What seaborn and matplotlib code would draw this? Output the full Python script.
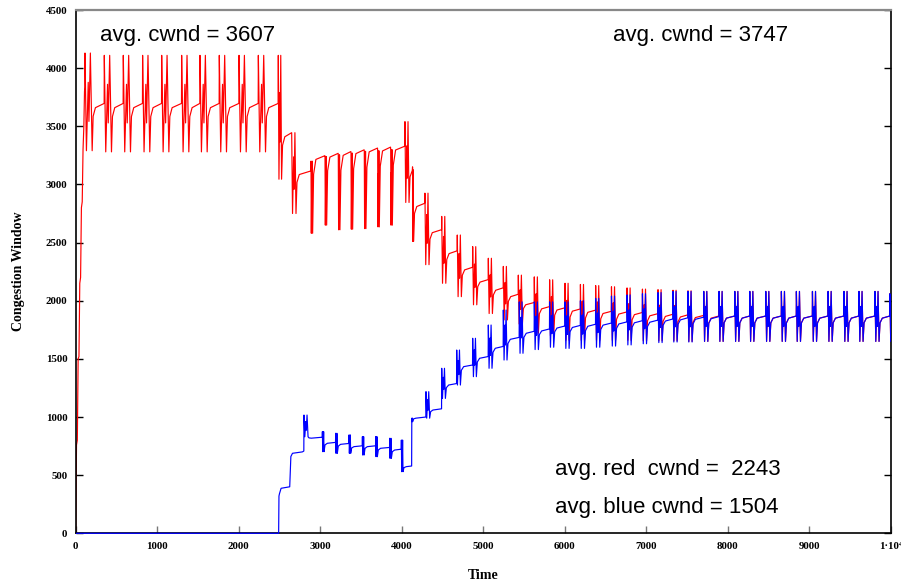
import numpy as np
import pandas as pd
import matplotlib
matplotlib.use("Agg")
import matplotlib.pyplot as plt
import seaborn as sns
from matplotlib.transforms import Bbox, TransformedBbox

# ---- data ----
# red flow: slow start, then one entry per spike cluster
red_ramp_t = [0, 10, 20, 30, 40, 50, 60, 70, 80, 90, 100, 108]
red_ramp_v = [0, 760, 800, 1500, 1520, 2150, 2200, 2800, 2850, 3300, 3500, 3800]

red_t = [114, 351, 584, 821, 1055, 1300, 1525, 1762, 2004, 2241, 2486,
         2650, 2887, 3059, 3222, 3378, 3541, 3705, 3865, 4040, 4135,
         4285, 4491, 4682, 4871, 5063, 5247, 5431, 5627, 5815,
         6004, 6193, 6380, 6574, 6765, 6954, 7145, 7329, 7513, 7706,
         7894, 8087, 8271, 8467, 8659, 8843, 9040, 9232, 9427, 9611, 9807, 9990]
red_hi = [4130, 4110, 4110, 4110, 4110, 4110, 4110, 4110, 4110, 4110, 4110,
          3445, 3200, 3240, 3255, 3270, 3285, 3290, 3300, 3540, 3125,
          2925, 2725, 2565, 2465, 2365, 2295, 2220, 2205, 2180,
          2150, 2140, 2130, 2120, 2110, 2100, 2095, 2090, 2085, 2080,
          2080, 2080, 2080, 2080, 2080, 2080, 2080, 2080, 2080, 2080, 2080, 2060]
red_lo = [3290, 3280, 3280, 3280, 3280, 3280, 3280, 3280, 3280, 3280, 3045,
          2750, 2580, 2650, 2610, 2615, 2620, 2635, 2650, 2845, 2510,
          2310, 2150, 2035, 1965, 1890, 1835, 1800, 1720, 1700,
          1660, 1660, 1660, 1660, 1660, 1655, 1655, 1655, 1650, 1650,
          1650, 1650, 1650, 1650, 1650, 1650, 1650, 1650, 1650, 1650, 1650, 1650]
red_lvl = [3660, 3660, 3660, 3660, 3660, 3660, 3660, 3660, 3660, 3660, 3410,
           3085, 3215, 3235, 3250, 3265, 3280, 3288, 3296, 3120, 2810,
           2585, 2405, 2265, 2160, 2090, 2035, 1965, 1930, 1920,
           1910, 1900, 1890, 1885, 1880, 1870, 1865, 1860, 1855, 1850,
           1850, 1850, 1850, 1850, 1850, 1850, 1850, 1850, 1850, 1850, 1850, 1850]
red_w = [88] * 10 + [40, 53, 20, 20, 20, 20, 20, 20, 20, 50, 10] + [50] * 31

# blue flow: zero until ~2500, then clusters
blue_pre_t = [0, 2490, 2494, 2500, 2520, 2626, 2640, 2660, 2781]
blue_pre_v = [0, 0, 320, 340, 387, 400, 660, 688, 700]

blue_t = [2801, 3027, 3190, 3354, 3518, 3681, 3853, 3996, 4124,
          4298, 4491, 4675, 4871, 5063, 5247, 5443, 5627, 5815,
          6004, 6193, 6380, 6574, 6765, 6954, 7145, 7329, 7513, 7706,
          7894, 8087, 8271, 8467, 8659, 8843, 9040, 9232, 9427, 9611, 9807, 9990]
blue_hi = [1017, 874, 860, 846, 831, 831, 817, 802, 990,
           1218, 1419, 1576, 1677, 1791, 1920, 1990, 1990, 1990,
           1990, 2000, 2020, 2040, 2050, 2060, 2070, 2080, 2080, 2080,
           2080, 2080, 2080, 2080, 2080, 2080, 2080, 2080, 2080, 2080, 2080, 2060]
blue_lo = [830, 702, 688, 688, 673, 659, 645, 530, 960,
           990, 1160, 1275, 1347, 1419, 1490, 1548, 1580, 1600,
           1590, 1590, 1600, 1610, 1620, 1630, 1640, 1645, 1645, 1650,
           1650, 1650, 1650, 1650, 1650, 1650, 1650, 1650, 1650, 1650, 1650, 1650]
blue_lvl = [818, 774, 765, 745, 745, 731, 716, 573, 990,
            1060, 1275, 1433, 1505, 1591, 1668, 1720, 1740, 1765,
            1770, 1780, 1790, 1800, 1810, 1815, 1825, 1835, 1840, 1845,
            1850, 1850, 1850, 1850, 1850, 1850, 1850, 1850, 1850, 1850, 1850, 1850]
blue_w = [50, 20, 20, 20, 20, 20, 20, 20, 10] + [45] * 7 + [50] * 24

x_ticks = list(range(0, 10001, 1000))
x_labels = ["0", "1000", "2000", "3000", "4000", "5000", "6000", "7000", "8000", "9000", "1·10⁴"]
y_ticks = list(range(0, 4501, 500))


def trace(pre_t, pre_v, ct, hi, lo, lvl, w):
    # polyline through the read plateau / peak / trough levels of each cluster
    xs, ys = list(pre_t), list(pre_v)
    for c, h, l, v, d in zip(ct, hi, lo, lvl, w):
        xs.append(c - 2)
        ys.append(ys[-1] * 1.01)
        xs += [c, c + 0.2 * d, c + 0.45 * d, c + 0.55 * d, c + 0.75 * d, c + d,
               c + d + 12, c + d + 40]
        ys += [h, l, h - 0.3 * (h - l), l + 0.3 * (h - l), h, l,
               l + 0.8 * (v - l), v]
    return xs, ys


rx, ry = trace(red_ramp_t, red_ramp_v, red_t, red_hi, red_lo, red_lvl, red_w)
bx, by = trace(blue_pre_t, blue_pre_v, blue_t, blue_hi, blue_lo, blue_lvl, blue_w)
df = pd.concat([
    pd.DataFrame({"Time": rx, "cwnd": ry, "flow": "red"}),
    pd.DataFrame({"Time": bx, "cwnd": by, "flow": "blue"}),
], ignore_index=True)

sns.set_style("white")
plt.rcParams["font.family"] = ["Liberation Serif", "DejaVu Serif"]
plt.rcParams["font.weight"] = "bold"
plt.rcParams["text.color"] = "black"
plt.rcParams["axes.labelcolor"] = "black"

fig = plt.figure(figsize=(9.01, 5.86), dpi=100)
ax = fig.add_axes([75.7 / 901, (586 - 533.3) / 586, 815 / 901, 523.3 / 586])

sns.lineplot(data=df, x="Time", y="cwnd", hue="flow", hue_order=["red", "blue"],
             palette={"red": "#ff0000", "blue": "#0000ff"}, sort=False,
             estimator=None, legend=False, linewidth=0.85, ax=ax)

# let the zero-level blue line sit on the bottom axis
blue_line = ax.get_lines()[1]
blue_line.set_zorder(3)
blue_line.set_clip_box(TransformedBbox(Bbox([[0, -0.01], [1, 1]]), ax.transAxes))

ax.set_xlim(0, 10000)
ax.set_ylim(0, 4500)
ax.set_xticks(x_ticks)
ax.set_xticklabels(x_labels)
ax.set_yticks(y_ticks)
ax.set_yticklabels([str(v) for v in y_ticks])
ax.tick_params(axis="both", direction="in", length=5, width=1, labelsize=7.8,
               pad=6, right=True, left=True, bottom=True, labelcolor="black")
ax.tick_params(axis="x", colors="#777777", labelcolor="black")
ax.tick_params(axis="y", colors="black")
for lab in ax.get_xticklabels() + ax.get_yticklabels():
    lab.set_fontweight("bold")

for side in ["left", "right", "bottom"]:
    ax.spines[side].set_color("black")
    ax.spines[side].set_linewidth(1.2)
ax.spines["top"].set_color("#888888")
ax.spines["top"].set_linewidth(1.6)

ax.set_xlabel("Time", fontsize=10, fontweight="bold", color="black")
ax.set_ylabel("Congestion Window", fontsize=10, fontweight="bold", color="black")
ax.xaxis.set_label_coords(0.5, -0.068)
ax.yaxis.set_label_coords(-0.062, 0.5)

txt = dict(fontsize=16, family="Liberation Sans", fontweight="normal",
           va="baseline", color="black")
ax.text(299, 4233, "avg. cwnd = 3607", **txt)
ax.text(6593, 4233, "avg. cwnd = 3747", **txt)
ax.text(5881, 501, "avg. red  cwnd =  2243", **txt)
ax.text(5881, 175, "avg. blue cwnd = 1504", **txt)

fig.savefig("out.png", dpi=100)
